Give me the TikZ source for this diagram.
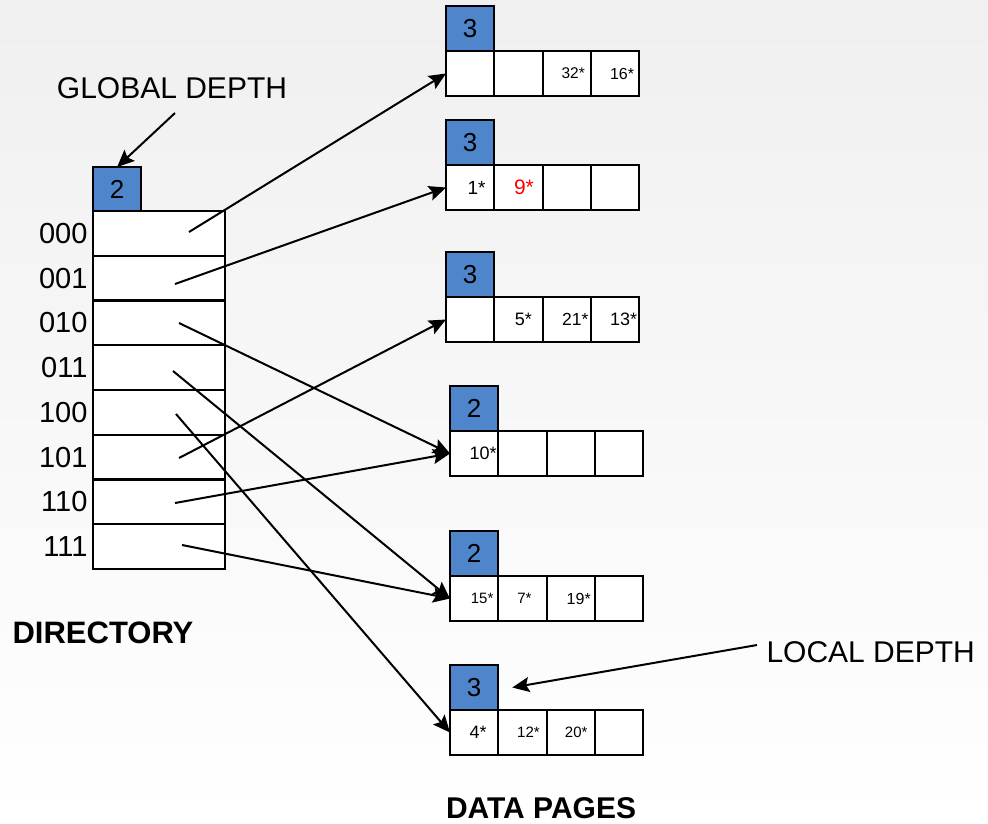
\documentclass[tikz,border=0pt]{standalone}
\usepackage{fontspec}
\setmainfont{Liberation Sans}
\usetikzlibrary{positioning,arrows.meta}
\definecolor{depthblue}{RGB}{79,134,203}
\newcommand{\fsz}[1]{\fontsize{#1}{#1}\selectfont}

\begin{document}
\begin{tikzpicture}[x=1pt, y=-1pt,
	cell/.style={draw, line width=2.2pt, fill=white, inner sep=0pt, outer sep=0pt,
		minimum width=48.3pt, minimum height=45pt, anchor=north west},
	depth/.style={cell, fill=depthblue, font=\fsz{26}},
	dircell/.style={cell, minimum width=132pt, minimum height=44.75pt},
	entry/.style={font=\fsz{#1}},
	caption/.style={font=\fsz{30}},
	pointer/.style={line width=2pt, -{Stealth[length=17pt,width=15pt,inset=3pt]}}]
	% background
	\shade [top color=black!6, bottom color=white] (0,0) rectangle (988,823);

	% directory
	\node [depth] (gd) at (93,167) {2};
	\foreach \i/\lab in {0/000, 1/001, 2/010, 3/011, 4/100, 5/101, 6/110, 7/111} {
		\node [dircell] (d\lab) at (93,{211+\i*44.75}) {};
		\node [left=2pt of d\lab, font=\fsz{29}] (l\lab) {\lab};
	}
	\node [font=\fsz{31}\bfseries] (dirtxt) at (103,633) {DIRECTORY};

	% data pages
	\foreach \b/\x/\y/\d in {1/446/6/3, 2/446/120/3, 3/446/252/3, 4/450/386/2, 5/450/531/2, 6/450/665/3} {
		\node [depth] (b\b d) at (\x,\y) {\d};
		\foreach \c in {1,...,4}
			\node [cell] (b\b c\c) at ([xshift={(\c-1)*48.3}]b\b d.south west) {};
	}
	\node [entry=15.5] (e32) at ([xshift=6.5]b1c3.center) {32*};
	\node [entry=16] (e16) at ([xshift=7]b1c4.center) {16*};
	\node [entry=19] (e1) at ([xshift=6.5]b2c1.center) {1*};
	\node [entry=21, text=red] (e9) at ([xshift=5.5]b2c2.center) {9*};
	\node [entry=18] (e5) at ([xshift=5]b3c2.center) {5*};
	\node [entry=17.5] (e21) at ([xshift=8.5]b3c3.center) {21*};
	\node [entry=18] (e13) at ([xshift=8.5]b3c4.center) {13*};
	\node [entry=18] (e10) at ([xshift=9]b4c1.center) {10*};
	\node [entry=15] (e15) at ([xshift=8]b5c1.center) {15*};
	\node [entry=15] (e7) at ([xshift=2]b5c2.center) {7*};
	\node [entry=16] (e19) at ([xshift=8]b5c3.center) {19*};
	\node [entry=18] (e4) at ([xshift=4]b6c1.center) {4*};
	\node [entry=15] (e12) at ([xshift=6]b6c2.center) {12*};
	\node [entry=15] (e20) at ([xshift=5.5]b6c3.center) {20*};
	\node [font=\fsz{30}\bfseries] (pagetxt) at (541,808) {DATA PAGES};

	% pointers
	\coordinate (p000) at (189,232);
	\coordinate (p001) at (175,284);
	\coordinate (p010) at (179,323);
	\coordinate (p011) at (173,371);
	\coordinate (p100) at (176,414);
	\coordinate (p101) at (179,458);
	\coordinate (p110) at (175,503);
	\coordinate (p111) at (182,545);
	\draw [pointer] (p000) -- (b1c1.west);
	\draw [pointer] (p001) -- (b2c1.west);
	\draw [pointer] (p010) -- (b4c1.west);
	\draw [pointer] (p011) -- (b5c1.west);
	\draw [pointer] (p100) -- (b6c1.west);
	\draw [pointer] (p101) -- (b3c1.west);
	\draw [pointer] (p110) -- (b4c1.west);
	\draw [pointer] (p111) -- (b5c1.west);

	% depth captions
	\node [caption] (globaltxt) at (172,88) {GLOBAL DEPTH};
	\coordinate (gtail) at (175,113);
	\draw [pointer] (gtail) -- (gd.north);
	\node [caption, anchor=west] (localtxt) at (763,652) {LOCAL DEPTH};
	\coordinate (ltail) at (757,645);
	\draw [pointer] (ltail) -- ([xshift=14]b6d.east);
\end{tikzpicture}
\end{document}
